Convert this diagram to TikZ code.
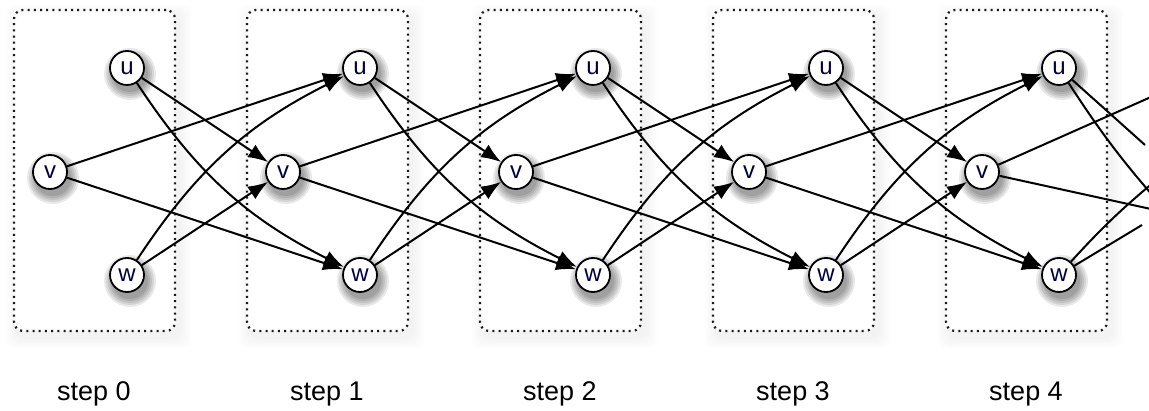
\documentclass[tikz,border=0pt]{standalone}
\usepackage{fontspec}
\setmainfont{Liberation Sans}
\usetikzlibrary{arrows.meta}
\begin{document}
\begin{tikzpicture}[x=1pt,y=1pt,
  state/.style={circle, draw=black, line width=1.8pt, fill=white,
    minimum size=34pt, inner sep=0pt, text=black!75!blue,
    font=\fontsize{24}{24}\selectfont},
  edge/.style={line width=2pt, -{Latex[length=20pt,width=15pt]}},
  stub/.style={line width=2pt},
  stepbox/.style={draw=black!90, line width=2.2pt,
    dash pattern=on 2pt off 4.2pt, rounded corners=9pt,
    minimum width=161pt, minimum height=321pt, inner sep=0pt},
  steplabel/.style={anchor=base, font=\fontsize{27}{27}\selectfont},
  blur/.style={black, opacity=0.085}]
\clip (0,0) rectangle (1149,-411);
\fill[white] (0,0) rectangle (1149,-411);

% faint halo along the lower edge of the step frames
\foreach \k in {0,...,4} {
  \foreach \s in {2,4,...,12} {
    \fill[black, opacity=0.008, rounded corners=9pt, even odd rule]
      (14+233*\k+4-\s, -10-6+\s) rectangle (175+233*\k+4+\s, -331-6-\s)
      (14+233*\k, -10) rectangle (175+233*\k, -331);
  }
}

% step frames and labels
\foreach \k in {0,...,4} {
  \node[stepbox] (box\k) at (94.5+233*\k, -170.5) {};
  \node[steplabel] (lab\k) at (94+233*\k, -401) {step \k};
}

% blurred drop shadows of the states
\foreach \k in {0,...,4} {
  \foreach \x/\y in {127/68, 50/172, 127/275} {
    \foreach \r in {26,24,22,20,18} {
      \fill[blur] (\x+233*\k+3, -\y-6) circle (\r);
    }
  }
}

% states u, v, w of every step
\foreach \k in {0,...,4} {
  \node[state] (u\k) at (127+233*\k, -68) {u};
  \node[state] (v\k) at (50+233*\k, -172) {v};
  \node[state] (w\k) at (127+233*\k, -275) {w};
}

% transitions from one step to the next
\foreach \k [evaluate=\k as \n using int(\k+1)] in {0,...,3} {
  \draw[edge] (u\k) -- (v\n);
  \draw[edge] (u\k) to[bend right=15] (w\n);
  \draw[edge] (v\k) -- (u\n);
  \draw[edge] (v\k) -- (w\n);
  \draw[edge] (w\k) to[bend left=15] (u\n);
  \draw[edge] (w\k) -- (v\n);
}

% transitions leaving step 4
\coordinate (ua) at (1145,-145);
\coordinate (ub) at (1160,-204);
\coordinate (va) at (1160,-93);
\coordinate (vb) at (1160,-211);
\coordinate (wa) at (1142,-225);
\coordinate (wb) at (1160,-177);
\draw[stub] (u4) -- (ua);
\draw[stub] (u4) to[bend right=4] (ub);
\draw[stub] (v4) -- (va);
\draw[stub] (v4) -- (vb);
\draw[stub] (w4) -- (wa);
\draw[stub] (w4) to[bend left=4] (wb);
\end{tikzpicture}
\end{document}
